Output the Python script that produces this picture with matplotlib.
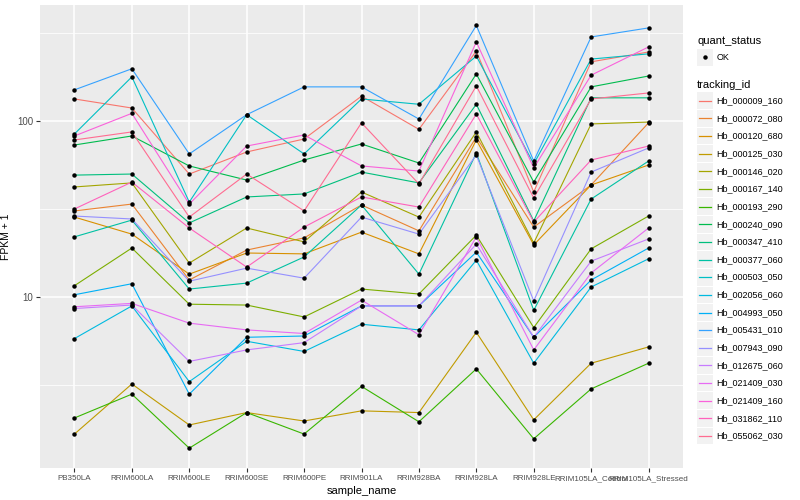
import matplotlib
matplotlib.use("Agg")
import matplotlib.pyplot as plt
from matplotlib.patches import Rectangle
from matplotlib.lines import Line2D
from matplotlib.ticker import FixedLocator, NullFormatter

# samples on the x axis
sample_name = ["PB350LA", "RRIM600LA", "RRIM600LE", "RRIM600SE", "RRIM600PE",
               "RRIM901LA", "RRIM928BA", "RRIM928LA", "RRIM928LE",
               "RRIM105LA_Control", "RRIM105LA_Stressed"]

tracking_id = ["Hb_000009_160", "Hb_000072_080", "Hb_000120_680", "Hb_000125_030",
               "Hb_000146_020", "Hb_000167_140", "Hb_000193_290", "Hb_000240_090",
               "Hb_000347_410", "Hb_000377_060", "Hb_000503_050", "Hb_002056_060",
               "Hb_004993_050", "Hb_005431_010", "Hb_007943_090", "Hb_012675_060",
               "Hb_021409_030", "Hb_021409_160", "Hb_031862_110", "Hb_055062_030"]

# FPKM + 1 values
hb_000009_160 = [134, 119, 50.1, 66.9, 79.3, 139, 90, 251, 39.6, 218, 248]
hb_000072_080 = [30.9, 33.8, 12.5, 18.5, 21.7, 33.4, 23.8, 81.4, 25.0, 43.4, 98]
hb_000120_680 = [28.5, 22.8, 13.5, 17.8, 17.6, 23.4, 17.6, 78.3, 19.8, 43.4, 56.4]
hb_000125_030 = [1.66, 3.2, 1.87, 2.2, 1.97, 2.25, 2.2, 6.3, 2.0, 4.2, 5.2]
hb_000146_020 = [42.3, 44.6, 15.6, 24.7, 20.6, 39.6, 28.5, 87, 20.3, 96.6, 99]
hb_000167_140 = [11.6, 19.0, 9.1, 9.0, 7.7, 11.1, 10.4, 22.5, 6.7, 18.8, 28.9]
hb_000193_290 = [2.05, 2.8, 1.38, 2.2, 1.66, 3.1, 1.95, 3.9, 1.56, 3.0, 4.2]
hb_000240_090 = [73.3, 82.5, 55.7, 46.3, 60.2, 74.3, 57.9, 186, 45.1, 157, 181]
hb_000347_410 = [49.4, 50.1, 26.4, 37.1, 38.6, 51.4, 44.6, 125, 27.1, 136, 136]
hb_000377_060 = [22.0, 27.4, 11.1, 12.0, 16.9, 33.4, 13.5, 66, 8.4, 36.1, 59.4]
hb_000503_050 = [84.7, 179, 34.7, 109, 65.2, 134, 125, 235, 57.2, 226, 242]
hb_002056_060 = [5.8, 8.9, 3.3, 5.6, 4.9, 7.0, 6.5, 16.2, 4.2, 11.4, 16.5]
hb_004993_050 = [10.3, 11.9, 2.8, 5.9, 6.0, 8.9, 8.9, 18.0, 5.9, 12.5, 19.0]
hb_005431_010 = [151, 199, 65.2, 109, 157, 157, 103, 351, 59.4, 302, 340]
hb_007943_090 = [28.9, 27.8, 12.3, 14.6, 12.8, 28.5, 22.8, 64.3, 9.5, 51.4, 70.5]
hb_012675_060 = [8.6, 9.0, 4.3, 5.0, 5.5, 8.9, 8.9, 20.0, 5.9, 16.0, 21.4]
hb_021409_030 = [8.8, 9.2, 7.1, 6.5, 6.2, 9.6, 6.1, 22.0, 5.0, 13.7, 24.7]
hb_021409_160 = [82.5, 111, 33.8, 72.3, 83.6, 55.7, 52.1, 283, 54.2, 183, 265]
hb_031862_110 = [31.7, 45.1, 24.7, 14.8, 25.0, 37.1, 32.5, 110, 26.7, 60.2, 72.3]
hb_055062_030 = [78.3, 87, 28.5, 50.1, 30.9, 98, 44.0, 159, 36.6, 134, 145]

series = [hb_000009_160, hb_000072_080, hb_000120_680, hb_000125_030, hb_000146_020,
          hb_000167_140, hb_000193_290, hb_000240_090, hb_000347_410, hb_000377_060,
          hb_000503_050, hb_002056_060, hb_004993_050, hb_005431_010, hb_007943_090,
          hb_012675_060, hb_021409_030, hb_021409_160, hb_031862_110, hb_055062_030]

# ggplot default hue palette, 20 levels
colors = ["#F8766D", "#EA8331", "#D89000", "#C09B00", "#A3A500", "#7CAE00", "#39B600",
          "#00BB4E", "#00BF7D", "#00C1A3", "#00BFC4", "#00BAE0", "#00B0F6", "#35A2FF",
          "#9590FF", "#C77CFF", "#E76BF3", "#FA62DB", "#FF62BC", "#FF6C91"]

FONT = ["Liberation Sans", "DejaVu Sans"]
plt.rcParams["font.family"] = FONT

W, H = 800, 500
fig = plt.figure(figsize=(W / 100, H / 100), dpi=100)
ax = fig.add_axes([40 / W, 1 - 468 / H, (683 - 40) / W, (468 - 5) / H])
ax.set_facecolor("#EBEBEB")
for s in ax.spines.values():
    s.set_visible(False)

x = list(range(len(sample_name)))
for vals, c in zip(series, colors):
    ax.plot(x, vals, color=c, lw=0.8, zorder=2)
for vals in series:
    ax.plot(x, vals, ls="none", marker="o", ms=2.2, color="black", zorder=3)

ax.set_yscale("log")
ax.set_ylim(1.064, 459)
ax.set_xlim(-0.6, len(sample_name) - 0.4)

ax.set_yticks([10, 100])
ax.set_yticklabels(["10", "100"])
ax.yaxis.set_minor_locator(FixedLocator([10 ** 0.5, 10 ** 1.5, 10 ** 2.5]))
ax.yaxis.set_minor_formatter(NullFormatter())
ax.set_xticks(x)
ax.set_xticklabels(sample_name, fontsize=5.8)

ax.grid(which="major", color="white", lw=1.1)
ax.grid(which="minor", axis="y", color="white", lw=0.55)
ax.set_axisbelow(True)
ax.tick_params(which="major", length=3, width=0.8, color="#333333",
               labelcolor="#4D4D4D", pad=2)
ax.tick_params(axis="y", labelsize=7)
ax.tick_params(which="minor", length=0)

ax.set_xlabel("sample_name", fontsize=8, labelpad=3)
ax.set_ylabel("FPKM + 1", fontsize=7.5, labelpad=4)

# legend: quant_status
def fx(px):
    return px / W

def fy(py):
    return 1 - py / H

fig.text(fx(697), fy(41), "quant_status", fontsize=8, va="center", ha="left")
fig.patches.append(Rectangle((fx(697), fy(65.5)), 16 / W, 16.6 / H,
                             transform=fig.transFigure, facecolor="#F2F2F2",
                             edgecolor="none"))
fig.lines.append(Line2D([fx(705)], [fy(57.2)], transform=fig.transFigure,
                        marker="o", ms=2.2, color="black"))
fig.text(fx(716.5), fy(57.2), "OK", fontsize=6.5, va="center", ha="left")

# legend: tracking_id
fig.text(fx(697), fy(84.5), "tracking_id", fontsize=8, va="center", ha="left")
step = 17.65
for i, (name, c) in enumerate(zip(tracking_id, colors)):
    yc = 100.7 + i * step
    fig.patches.append(Rectangle((fx(697), fy(yc + 8.3)), 16 / W, 16.6 / H,
                                 transform=fig.transFigure, facecolor="#F2F2F2",
                                 edgecolor="none"))
    fig.lines.append(Line2D([fx(699), fx(711)], [fy(yc), fy(yc)],
                            transform=fig.transFigure, color=c, lw=0.9))
    fig.text(fx(716.5), fy(yc), name, fontsize=6.5, va="center", ha="left")

fig.savefig("out.png", dpi=100, facecolor="white")
